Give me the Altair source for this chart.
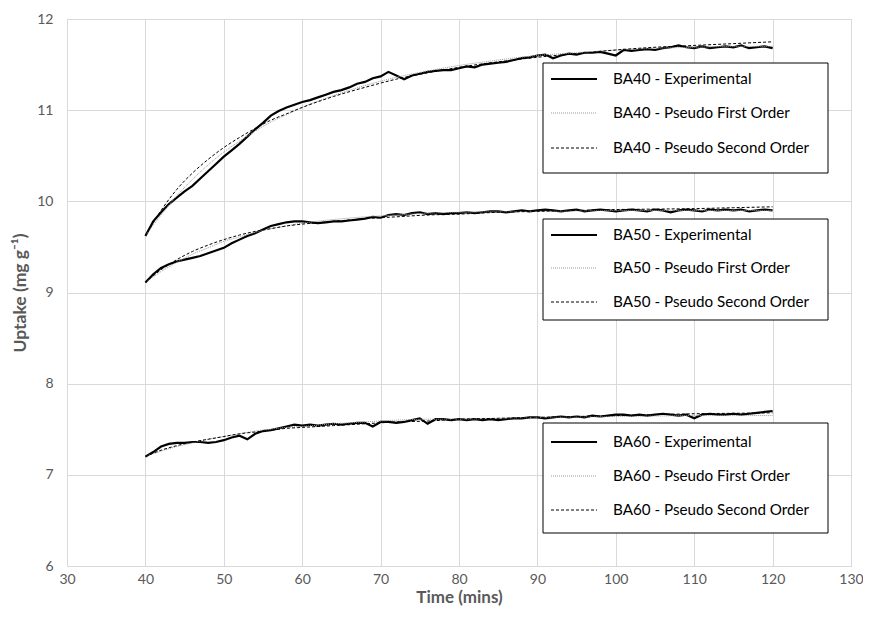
import altair as alt
import pandas as pd

# ---------------- data ----------------
exp_time = list(range(40, 121))

ba40_exp = [9.62, 9.78, 9.88, 9.97, 10.04, 10.11, 10.17, 10.25, 10.33, 10.41,
            10.49, 10.56, 10.63, 10.71, 10.79, 10.86, 10.94, 10.99, 11.03, 11.06,
            11.09, 11.11, 11.14, 11.17, 11.20, 11.22, 11.25, 11.29, 11.31, 11.35,
            11.37, 11.42, 11.38, 11.34, 11.38, 11.40, 11.42, 11.43, 11.44, 11.44,
            11.46, 11.48, 11.47, 11.50, 11.51, 11.52, 11.53, 11.55, 11.57, 11.58,
            11.60, 11.61, 11.57, 11.60, 11.62, 11.61, 11.63, 11.63, 11.64, 11.62,
            11.60, 11.66, 11.65, 11.66, 11.67, 11.66, 11.68, 11.69, 11.71, 11.69,
            11.68, 11.70, 11.68, 11.69, 11.70, 11.69, 11.71, 11.68, 11.69, 11.70,
            11.68]

ba50_exp = [9.11, 9.20, 9.27, 9.31, 9.34, 9.36, 9.38, 9.40, 9.43, 9.46,
            9.49, 9.54, 9.58, 9.62, 9.65, 9.69, 9.73, 9.75, 9.77, 9.78,
            9.78, 9.77, 9.76, 9.77, 9.78, 9.78, 9.79, 9.80, 9.81, 9.83,
            9.82, 9.85, 9.86, 9.85, 9.87, 9.88, 9.86, 9.87, 9.86, 9.87,
            9.87, 9.88, 9.87, 9.88, 9.89, 9.89, 9.88, 9.89, 9.90, 9.89,
            9.90, 9.91, 9.90, 9.89, 9.90, 9.91, 9.89, 9.90, 9.91, 9.90,
            9.89, 9.90, 9.91, 9.90, 9.89, 9.91, 9.90, 9.88, 9.90, 9.91,
            9.90, 9.89, 9.91, 9.90, 9.91, 9.90, 9.91, 9.89, 9.90, 9.91,
            9.90]

ba60_exp = [7.20, 7.25, 7.31, 7.34, 7.35, 7.35, 7.36, 7.36, 7.35, 7.36,
            7.38, 7.41, 7.43, 7.39, 7.45, 7.48, 7.49, 7.51, 7.53, 7.55,
            7.54, 7.55, 7.54, 7.55, 7.56, 7.55, 7.56, 7.57, 7.57, 7.53,
            7.58, 7.58, 7.57, 7.58, 7.60, 7.62, 7.56, 7.61, 7.61, 7.60,
            7.61, 7.60, 7.61, 7.60, 7.61, 7.60, 7.61, 7.62, 7.62, 7.63,
            7.63, 7.62, 7.63, 7.64, 7.63, 7.64, 7.63, 7.65, 7.64, 7.65,
            7.66, 7.66, 7.65, 7.66, 7.65, 7.66, 7.67, 7.66, 7.65, 7.66,
            7.62, 7.66, 7.67, 7.66, 7.66, 7.67, 7.66, 7.67, 7.68, 7.69,
            7.70]

model_time = [40, 42, 44, 46, 48, 50, 52, 54, 56, 58, 60, 64, 68, 72, 76, 80,
              85, 90, 95, 100, 105, 110, 115, 120]

ba40_pfo = [9.62, 9.85, 10.06, 10.24, 10.40, 10.54, 10.66, 10.77, 10.87, 10.95,
            11.03, 11.16, 11.27, 11.36, 11.43, 11.49, 11.55, 11.60, 11.63, 11.66,
            11.68, 11.69, 11.70, 11.70]
ba40_pso = [9.62, 9.90, 10.13, 10.31, 10.46, 10.59, 10.70, 10.80, 10.89, 10.96,
            11.03, 11.15, 11.25, 11.34, 11.41, 11.47, 11.53, 11.58, 11.62, 11.66,
            11.69, 11.71, 11.73, 11.75]

ba50_pfo = [9.11, 9.23, 9.33, 9.42, 9.49, 9.56, 9.61, 9.66, 9.70, 9.73,
            9.76, 9.80, 9.83, 9.85, 9.87, 9.88, 9.885, 9.89, 9.895, 9.90,
            9.90, 9.90, 9.90, 9.90]
ba50_pso = [9.11, 9.25, 9.36, 9.45, 9.52, 9.58, 9.63, 9.67, 9.70, 9.73,
            9.75, 9.78, 9.81, 9.83, 9.85, 9.86, 9.88, 9.89, 9.90, 9.91,
            9.915, 9.92, 9.93, 9.94]

ba60_pfo = [7.20, 7.26, 7.31, 7.35, 7.39, 7.42, 7.45, 7.48, 7.50, 7.52,
            7.53, 7.56, 7.58, 7.60, 7.61, 7.61, 7.62, 7.63, 7.635, 7.64,
            7.645, 7.65, 7.65, 7.65]
ba60_pso = [7.20, 7.27, 7.32, 7.36, 7.39, 7.42, 7.45, 7.47, 7.49, 7.51,
            7.52, 7.54, 7.56, 7.58, 7.59, 7.61, 7.62, 7.63, 7.64, 7.65,
            7.66, 7.67, 7.675, 7.68]

groups = ["BA40", "BA50", "BA60"]
series_names = ["Experimental", "Pseudo First Order", "Pseudo Second Order"]

x_ticks = [30, 40, 50, 60, 70, 80, 90, 100, 110, 120, 130]
y_ticks = [6, 7, 8, 9, 10, 11, 12]

# ---------------- table ----------------
rows = []
for g, e, p1, p2 in [("BA40", ba40_exp, ba40_pfo, ba40_pso),
                     ("BA50", ba50_exp, ba50_pfo, ba50_pso),
                     ("BA60", ba60_exp, ba60_pfo, ba60_pso)]:
    for t, q in zip(exp_time, e):
        rows.append({"t": t, "q": q, "group": g, "model": series_names[0]})
    for t, q in zip(model_time, p1):
        rows.append({"t": t, "q": q, "group": g, "model": series_names[1]})
    for t, q in zip(model_time, p2):
        rows.append({"t": t, "q": q, "group": g, "model": series_names[2]})
df = pd.DataFrame(rows)

FONT = "Lato"
AXIS_GREY = "#595959"
GRID = "#d9d9d9"

PLOT_W = 784
PLOT_H = 547

x_enc = alt.X("t:Q", scale=alt.Scale(domain=[30, 130], nice=False),
              axis=alt.Axis(values=x_ticks, title="Time (mins)", grid=True,
                            gridColor=GRID, domainColor=GRID, ticks=False, tickSize=0,
                            labelPadding=6, titlePadding=3, labelFontSize=14,
                            titleFontSize=17, labelFont=FONT, titleFont=FONT,
                            labelColor=AXIS_GREY, titleColor=AXIS_GREY,
                            titleFontWeight="bold", labelFlush=False))
y_enc = alt.Y("q:Q", scale=alt.Scale(domain=[6, 12], nice=False),
              axis=alt.Axis(values=y_ticks, title="Uptake (mg g⁻¹)", grid=True,
                            gridColor=GRID, domainColor=GRID, ticks=False, tickSize=0,
                            labelPadding=14, titlePadding=7, labelFontSize=14,
                            titleFontSize=17.5, labelFont=FONT, titleFont=FONT,
                            labelColor=AXIS_GREY, titleColor=AXIS_GREY,
                            titleFontWeight="bold"))

styles = {
    series_names[0]: dict(color="black", strokeWidth=2.2),
    series_names[1]: dict(color="#9a9a9a", strokeWidth=1, strokeDash=[1, 1]),
    series_names[2]: dict(color="black", strokeWidth=1, strokeDash=[3, 2]),
}

layers = []
for g in groups:
    for s in series_names:
        layers.append(
            alt.Chart(df)
            .transform_filter((alt.datum.group == g) & (alt.datum.model == s))
            .mark_line(interpolate="monotone" if s != series_names[0] else "linear", **styles[s])
            .encode(x=x_enc, y=y_enc, order="t:Q")
        )

# ---------------- legends (drawn boxes) ----------------
one = pd.DataFrame({"a": [0]})
PX0, PY0 = 67, 19  # plot origin on the page
boxes = [(63, 173, [79, 113, 148]),
         (219, 320, [235, 268, 302]),
         (423, 533, [442, 476, 510])]
for g, (top, bottom, ys) in zip(groups, boxes):
    layers.append(
        alt.Chart(one).mark_rect(fill="white", stroke="black", strokeWidth=1)
        .encode(x=alt.value(543 - PX0), x2=alt.value(828 - PX0),
                y=alt.value(top - PY0), y2=alt.value(bottom - PY0))
    )
    for s, yy in zip(series_names, ys):
        st = dict(styles[s])
        layers.append(
            alt.Chart(one).mark_rule(**st)
            .encode(x=alt.value(551 - PX0), x2=alt.value(597 - PX0),
                    y=alt.value(yy - PY0))
        )
        layers.append(
            alt.Chart(one).mark_text(text=f"{g} - {s}", align="left", baseline="middle",
                                     font=FONT, fontSize=15.2, color="black")
            .encode(x=alt.value(613 - PX0), y=alt.value(yy - PY0))
        )

chart = (
    alt.layer(*layers)
    .properties(width=PLOT_W, height=PLOT_H,
                autosize=alt.AutoSizeParams(type="none"),
                padding={"left": 59, "top": 11, "right": 12, "bottom": 44})
    .configure_view(stroke=None)
    .configure(background="white")
)

chart.save("out.html", embed_options={"renderer": "svg", "actions": False})
